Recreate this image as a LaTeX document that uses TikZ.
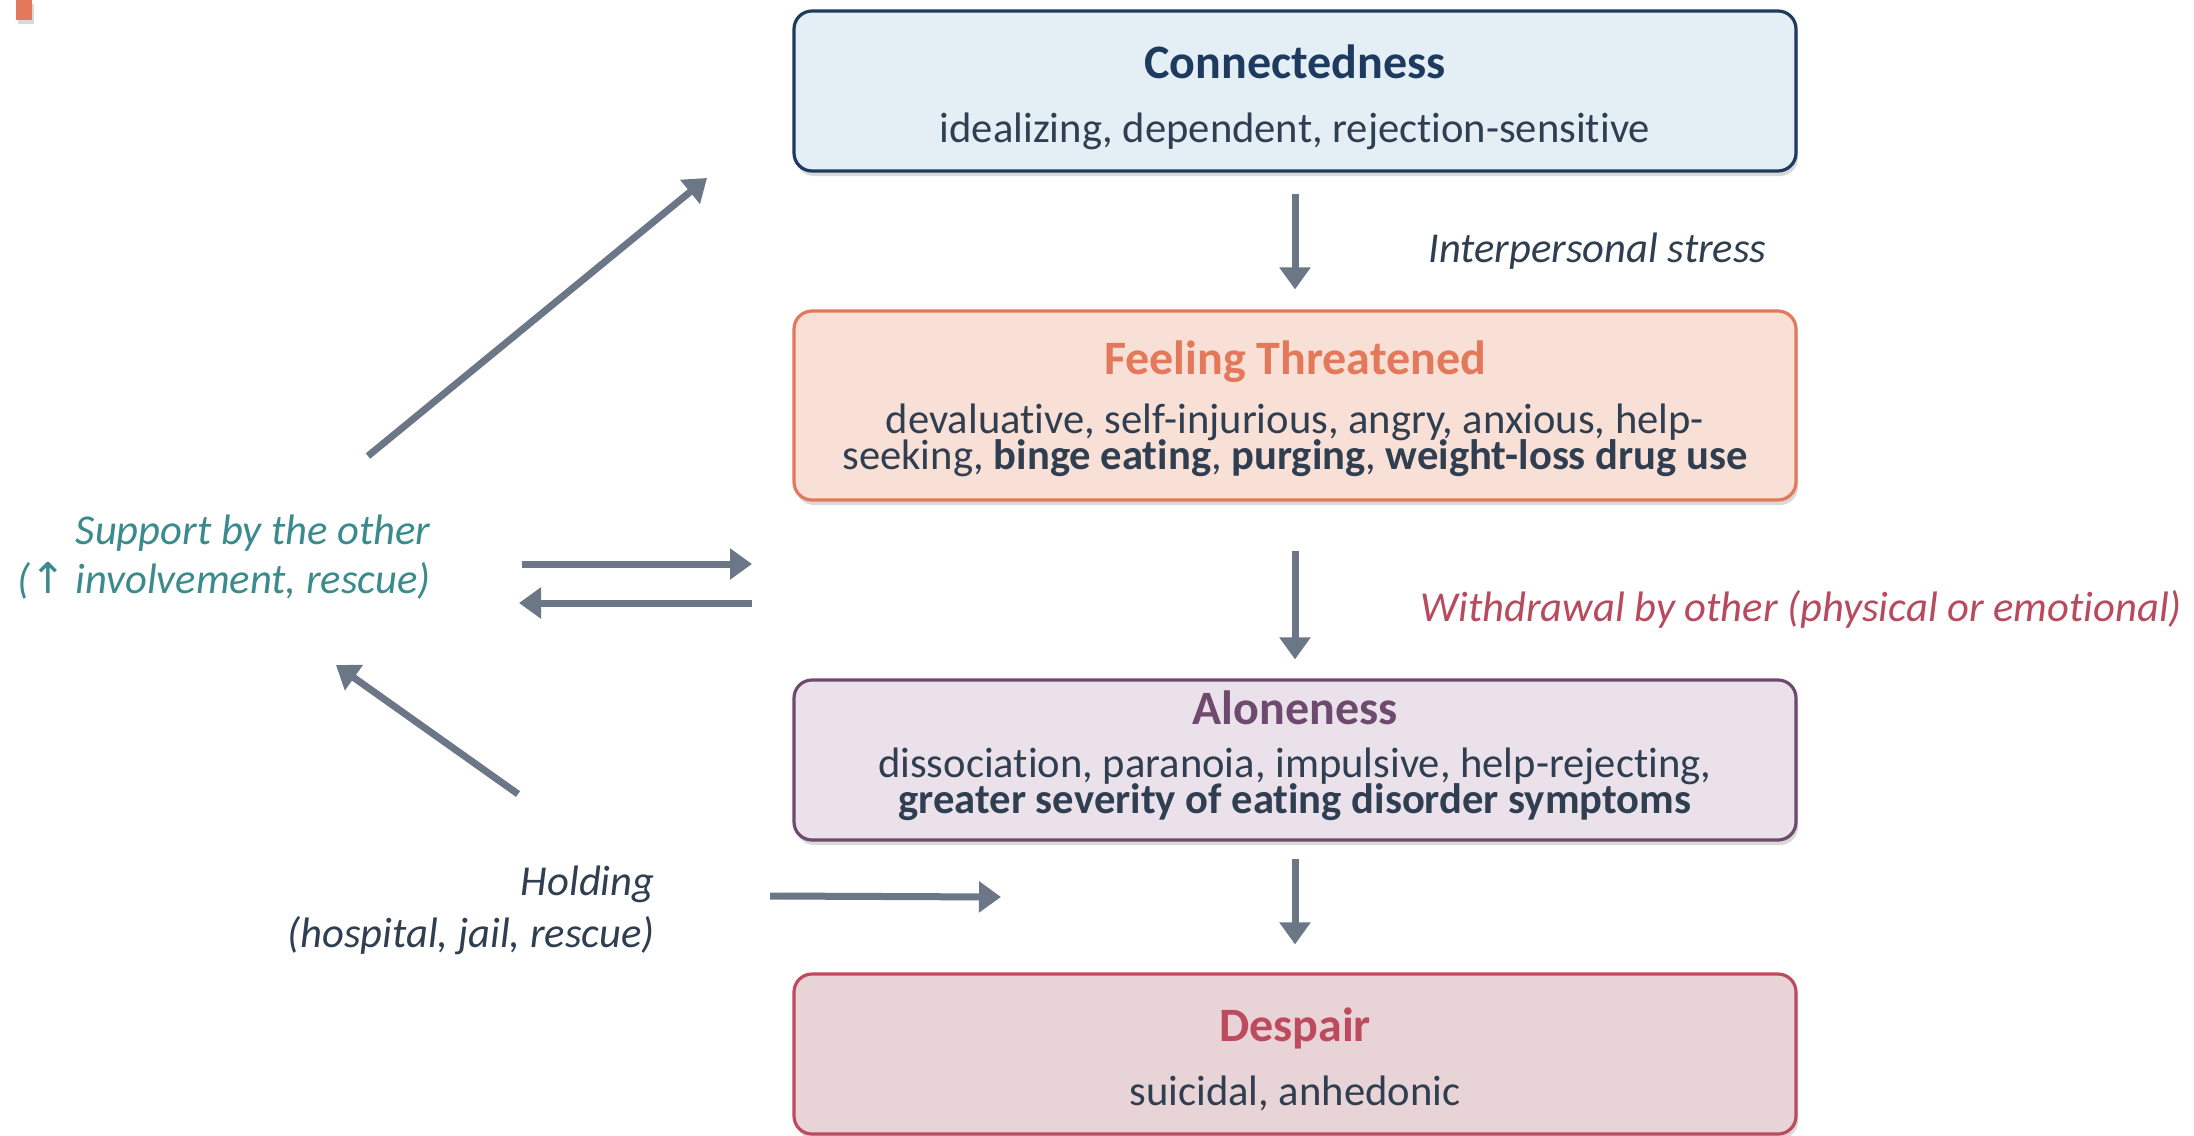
\documentclass[tikz,border=0pt]{standalone}
\usepackage{fontspec}
\setmainfont{Carlito}[Ligatures=NoCommon]
\newfontfamily\symfont{DejaVu Sans}
\usepackage{tikz}
\usetikzlibrary{arrows.meta,positioning,shadows}
\definecolor{txt}{HTML}{2F3E50}
\definecolor{arrc}{HTML}{6B7686}
\definecolor{conline}{HTML}{1F3A5F}
\definecolor{confill}{HTML}{E3EEF5}
\definecolor{thrline}{HTML}{E3785A}
\definecolor{thrfill}{HTML}{F8E0D6}
\definecolor{aloline}{HTML}{6F4A6F}
\definecolor{alofill}{HTML}{EAE1EA}
\definecolor{desline}{HTML}{BE4A5E}
\definecolor{desfill}{HTML}{E8D3D7}
\definecolor{suptxt}{HTML}{3B8A8C}
\definecolor{wdrtxt}{HTML}{B84A5E}
% body font with fixed line spacing
\newcommand{\boxfont}{\fontsize{21.3}{18}\selectfont\lineskiplimit-30pt\relax}
% box title: colour, strut height, text
\newcommand{\ttl}[3]{{\fontsize{24}{18}\selectfont\bfseries\rule{0pt}{#2}\textcolor{#1}{#3}}}

\begin{document}
\begin{tikzpicture}[x=0.5pt,y=-0.5pt]
\tikzset{
  box/.style={draw,rounded corners=9pt,line width=1.6pt,align=center,minimum width=501pt,minimum height=80pt,inner sep=0pt,text=txt,font=\boxfont,drop shadow={shadow xshift=1pt,shadow yshift=-2.5pt,opacity=0.3}},
  con/.style={box,fill=confill,draw=conline},
  thr/.style={box,fill=thrfill,draw=thrline,minimum height=94.5pt},
  alo/.style={box,fill=alofill,draw=aloline},
  des/.style={box,fill=desfill,draw=desline},
  lbl/.style={font=\fontsize{21.3}{24.5}\selectfont\itshape,align=right,inner sep=0pt},
  arr/.style={-{Triangle[length=11pt,width=15pt]},line width=3.5pt,draw=arrc}
}
\useasboundingbox (0,0) rectangle (2194,1135);
\fill[thrline,drop shadow={shadow xshift=1pt,shadow yshift=-2pt,opacity=0.3}] (16,0) rectangle (32,20);
% boxes
\node(cn)[con] at (1295,91) {\ttl{conline}{23.5pt}{Connectedness}\\[14pt]idealizing, dependent, rejection-sensitive};
\node(th)[thr] at (1295,405.5) {\ttl{thrline}{20.1pt}{Feeling Threatened}\\[11.4pt]devaluative, self-injurious, angry, anxious, help-\\seeking, \textbf{binge eating}, \textbf{purging}, \textbf{weight-loss drug use}};
\node(al)[alo] at (1295,760) {\ttl{aloline}{0pt}{Aloneness}\\[8.5pt]dissociation, paranoia, impulsive, help-rejecting,\\\textbf{greater severity of eating disorder symptoms}\rule[-8pt]{0pt}{0pt}};
\node(de)[des] at (1295,1054) {\ttl{desline}{22pt}{Despair}\\[14pt]suicidal, anhedonic};
% labels
\node(ip)[lbl,anchor=west,text=txt] at (1428,251) {Interpersonal stress};
\node(wd)[lbl,anchor=west,text=wdrtxt] at (1420,609) {Withdrawal by other (physical or emotional)};
\node(sp)[lbl,anchor=east,text=suptxt] at (431,557) {Support by the other\\({\upshape\symfont↑} involvement, rescue)};
\node(hd)[lbl,anchor=east,text=txt,font=\fontsize{21.3}{26}\selectfont\itshape] at (655,910) {Holding\\(hospital, jail, rescue)};
% side arrows
\coordinate (d1) at (368,456); \coordinate (d2) at (707,178);
\coordinate (r1) at (522,564); \coordinate (r2) at (752,564);
\coordinate (l1) at (752,603); \coordinate (l2) at (519,603);
\coordinate (u1) at (518,794); \coordinate (u2) at (336,665);
\coordinate (h1) at (770,896); \coordinate (h2) at (1001,897);
\draw[arr,shorten <=10.5pt,shorten >=10pt](cn)--(th);
\draw[arr,shorten <=24.5pt,shorten >=9.5pt](th)--(al);
\draw[arr,shorten <=8.5pt,shorten >=14pt](al)--(de);
\draw[arr](d1)--(d2); \draw[arr](r1)--(r2); \draw[arr](l1)--(l2);
\draw[arr](u1)--(u2); \draw[arr](h1)--(h2);
\end{tikzpicture}
\end{document}
